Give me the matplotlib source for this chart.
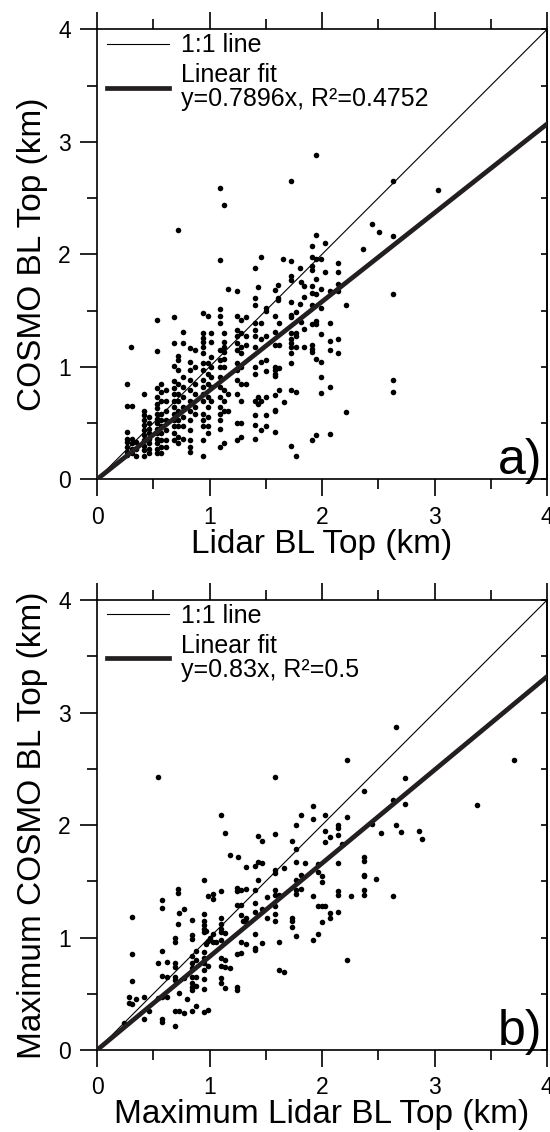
import numpy as np
import matplotlib
matplotlib.use('Agg')
import matplotlib.pyplot as plt

plt.rcParams['font.family'] = ['Liberation Sans', 'DejaVu Sans']

# ---- panel a: lidar BL top (x columns) vs COSMO BL top ----
a_lidar = [0.27, 0.30, 0.31, 0.35, 0.42, 0.46, 0.53, 0.57, 0.61, 0.68, 0.72, 0.76,
           0.83, 0.875, 0.94, 0.99, 1.01, 1.09, 1.13, 1.16, 1.24, 1.28, 1.32, 1.40,
           1.43, 1.46, 1.50, 1.58, 1.61, 1.62, 1.65, 1.66, 1.72, 1.77, 1.80, 1.81,
           1.84, 1.91, 1.95, 1.99, 2.03, 2.07, 2.14, 2.21, 2.36, 2.44, 2.51, 2.63, 3.03]
a_cosmo = [
    [0.85, 0.65, 0.42, 0.36, 0.33, 0.29, 0.24, 0.22],
    [1.18],
    [0.65, 0.36, 0.32, 0.27, 0.23],
    [0.33, 0.27, 0.21],
    [0.76, 0.61, 0.57, 0.53, 0.48, 0.44, 0.39, 0.35, 0.30, 0.26, 0.21],
    [0.55, 0.50, 0.45, 0.41, 0.36, 0.32, 0.27, 0.23],
    [1.42, 1.14, 0.81, 0.73, 0.67, 0.63, 0.58, 0.54, 0.50, 0.45, 0.41, 0.36, 0.32, 0.27, 0.23],
    [0.85, 0.78, 0.70, 0.58, 0.53, 0.47, 0.41, 0.35, 0.29, 0.23],
    [0.79, 0.70, 0.61, 0.53, 0.44, 0.35, 0.29],
    [1.44, 1.21, 1.01, 0.87, 0.81, 0.76, 0.70, 0.64, 0.58, 0.53, 0.47, 0.41, 0.35],
    [2.22, 1.10, 1.06, 0.97, 0.85, 0.76, 0.70, 0.61, 0.53, 0.47, 0.38, 0.32],
    [1.31, 1.21, 0.91, 0.82, 0.73, 0.64, 0.55, 0.47, 0.36],
    [1.17, 1.04, 0.97, 0.88, 0.79, 0.70, 0.61, 0.53, 0.44, 0.35, 0.29, 0.24],
    [1.15, 1.00, 0.85, 0.76, 0.64, 0.58],
    [1.48, 1.30, 1.26, 1.22, 1.18, 1.12, 1.03, 0.97, 0.88, 0.82, 0.76, 0.70, 0.58, 0.53, 0.47, 0.35, 0.21],
    [1.45, 1.03, 0.94, 0.85, 0.73, 0.64, 0.55, 0.47, 0.41],
    [1.30, 1.22, 1.09, 1.00, 0.91, 0.82, 0.70],
    [2.59, 1.95, 1.51, 1.45, 1.39, 1.15, 1.06, 1.00, 0.91, 0.82, 0.73, 0.64, 0.58, 0.53, 0.45, 0.29],
    [2.44, 1.30, 1.22, 1.18, 1.13, 1.07, 1.00, 0.79, 0.70, 0.61, 0.32],
    [1.69, 0.76, 0.61],
    [1.67, 1.45, 1.33, 1.27, 1.21, 1.15, 1.03, 0.97, 0.88, 0.76, 0.50, 0.35],
    [1.42, 1.30, 1.18, 1.12, 1.00, 0.85, 0.70, 0.50, 0.38],
    [1.44, 1.27, 1.19, 0.85],
    [1.88, 1.61, 1.55, 1.39, 1.33, 1.27, 1.18, 1.00, 0.94, 0.70, 0.57, 0.48, 0.36],
    [1.71, 0.73, 0.67],
    [1.98, 1.39, 1.25, 1.04, 0.70, 0.44],
    [1.52, 1.50, 1.27, 1.06, 0.96, 0.73, 0.57, 0.47],
    [1.68, 1.45, 1.31, 1.19, 1.00, 0.97, 0.94, 0.92, 0.75, 0.62, 0.61, 0.42],
    [1.73, 1.61, 1.59],
    [1.39, 1.19, 0.99, 0.79],
    [1.96],
    [0.69],
    [2.65, 1.94, 1.81, 1.77, 1.58, 1.46, 1.44, 1.30, 1.25, 1.21, 1.18, 1.12, 1.03, 0.79, 0.30],
    [1.49, 1.30, 1.27, 1.18, 0.78, 0.21],
    [1.88, 1.56],
    [1.75, 1.40],
    [1.72, 1.62, 1.34, 1.18],
    [2.07, 1.98, 1.90, 1.86, 1.72, 1.66, 1.55, 1.38, 1.19, 1.16, 1.13, 0.35],
    [2.88, 2.17, 1.96, 1.78, 1.65, 1.41, 1.38, 1.07, 0.39],
    [1.96, 1.69, 1.52, 1.29, 1.04, 0.91, 0.77],
    [2.10, 1.84],
    [1.67, 1.39, 1.23, 1.15, 0.82, 0.40],
    [1.92, 1.84, 1.74, 1.67, 1.25, 1.12],
    [1.55, 0.60],
    [2.05],
    [2.27],
    [2.20],
    [2.65, 2.16, 1.65, 0.88, 0.78],
    [2.57],
]
a_slope = 0.7896
a_label = 'Linear fit\ny=0.7896x, R\u00b2=0.4752'

# ---- panel b: daily maximum values ----
b_lidar = [0.24, 0.28, 0.31, 0.35, 0.42, 0.46, 0.54, 0.58, 0.62, 0.69, 0.72, 0.73,
           0.77, 0.80, 0.84, 0.88, 0.95, 0.97, 0.99, 1.00, 1.03, 1.06, 1.10, 1.14,
           1.18, 1.24, 1.25, 1.28, 1.30, 1.32, 1.40, 1.43, 1.47, 1.51, 1.58, 1.62,
           1.66, 1.73, 1.77, 1.81, 1.85, 1.92, 1.96, 2.00, 2.03, 2.07, 2.14, 2.18,
           2.22, 2.26, 2.37, 2.44, 2.48, 2.52, 2.63, 2.66, 2.70, 2.74, 2.86, 2.89,
           3.38, 3.71]
b_cosmo = [
    [0.24],
    [0.47, 0.42],
    [1.18, 0.85, 0.61, 0.41],
    [0.45],
    [0.47, 0.28],
    [0.35],
    [2.43, 0.77, 0.46],
    [1.33, 1.26, 0.88, 0.66, 0.47, 0.28, 0.25],
    [0.78, 0.65, 0.47],
    [1.00, 0.96, 0.77, 0.74, 0.65, 0.62, 0.35, 0.21],
    [1.43, 1.40, 1.12],
    [1.22, 0.51, 0.35],
    [1.25, 0.64, 0.33],
    [0.45],
    [1.16, 1.02, 0.99, 0.84, 0.77, 0.73, 0.65, 0.60, 0.56, 0.53, 0.35],
    [0.88, 0.80, 0.65, 0.57, 0.39],
    [1.51, 1.21, 1.15, 1.11, 1.08, 1.05, 0.87, 0.82, 0.77, 0.71, 0.63, 0.54, 0.34],
    [1.06, 0.94],
    [1.37, 0.97, 0.75, 0.36],
    [1.00],
    [1.39, 1.34, 1.03, 0.96],
    [0.96],
    [2.09, 1.41, 1.17, 1.12, 1.08, 1.05, 0.98, 0.82, 0.75, 0.64, 0.60],
    [1.93, 1.04, 0.80, 0.74, 0.55],
    [1.73, 0.73],
    [1.44, 1.41, 1.29, 0.85, 0.56, 0.53],
    [1.72],
    [1.42, 1.29, 1.20, 0.96, 0.86],
    [1.15],
    [1.63, 1.43, 1.17, 1.14, 0.94],
    [1.64, 1.42, 1.31, 1.23, 1.03, 0.91, 0.89],
    [1.90, 1.67, 1.51],
    [1.86, 1.66, 1.25, 0.95],
    [1.36, 1.17],
    [2.43, 1.92, 1.60, 1.57, 1.42, 1.38, 1.28, 1.21, 1.15],
    [1.38, 0.96, 0.71],
    [1.62, 0.69],
    [1.86, 1.17, 1.15, 1.09],
    [2.00, 1.79, 1.67, 1.51, 1.42, 1.39, 1.01],
    [2.09, 1.56, 1.43],
    [1.66],
    [2.17, 2.05, 1.37, 0.98],
    [1.65, 1.58, 1.28, 1.03],
    [1.55, 1.49, 1.28, 1.14],
    [2.09, 1.95, 1.85, 1.28],
    [1.89, 1.22, 1.17],
    [2.00, 1.97, 1.91, 1.66, 1.41, 1.38, 1.23],
    [1.83],
    [2.58, 2.07, 0.80],
    [1.37],
    [2.30, 1.72, 1.68, 1.56, 1.55, 1.42, 1.38],
    [2.01],
    [1.52],
    [1.93],
    [2.22, 1.37],
    [2.87, 2.00],
    [1.94],
    [2.42, 2.19],
    [1.95],
    [1.88],
    [2.18],
    [2.58],
]
b_slope = 0.83
b_label = 'Linear fit\ny=0.83x, R\u00b2=0.5'

fit_color = '#231f20'


def flatten(cols_x, cols_y):
    xs = np.concatenate([[x] * len(ys) for x, ys in zip(cols_x, cols_y)])
    ys = np.concatenate([ys for ys in cols_y])
    return xs, ys


def draw_panel(ax, cols_x, cols_y, slope, fit_label, xlabel, ylabel, tag):
    x, y = flatten(cols_x, cols_y)
    ax.scatter(x, y, s=16, color='black', linewidths=0, zorder=3)
    line = np.array([0, 4])
    ax.plot(line, line, color='black', lw=0.8, label='1:1 line', zorder=2)
    ax.plot(line, slope * line, color=fit_color, lw=3.4, label=fit_label, zorder=4)

    ax.set_xlim(0, 4)
    ax.set_ylim(0, 4)
    ticks = [0, 1, 2, 3, 4]
    minor = [0.5, 1.5, 2.5, 3.5]
    ax.set_xticks(ticks)
    ax.set_xticks(minor, minor=True)
    ax.set_yticks(ticks)
    ax.set_yticks(minor, minor=True)
    ax.tick_params(axis='x', which='both', top=True, direction='out')
    ax.tick_params(axis='both', which='major', length=12, width=1.2, labelsize=16.5, pad=7)
    ax.tick_params(axis='both', which='minor', length=7, width=1.2)
    ax.tick_params(axis='y', which='both', direction='out', right=False)

    # right side ticks point inward only
    sec = ax.secondary_yaxis('right')
    sec.set_yticks(ticks + minor)
    sec.tick_params(direction='in', length=4.5, width=1.2, labelright=False)
    sec.spines['right'].set_linewidth(1.2)

    for s in ax.spines.values():
        s.set_linewidth(1.2)

    ax.set_xlabel(xlabel, fontsize=24, labelpad=0)
    ax.set_ylabel(ylabel, fontsize=24, labelpad=7)
    leg = ax.legend(loc='upper left', bbox_to_anchor=(0.022, 0.991), frameon=False,
                    fontsize=18, handlelength=2.5, handletextpad=0.48,
                    borderaxespad=0, borderpad=0, labelspacing=0.22)
    leg.get_texts()[1].set_linespacing(1.0)
    ax.text(0.99, 0.012, tag, transform=ax.transAxes, ha='right', va='baseline', fontsize=36)


fig = plt.figure(figsize=(5.5, 11.32), dpi=100)
ax1 = fig.add_axes([0.1764, 0.5766, 0.8182, 0.3975])
ax2 = fig.add_axes([0.1764, 0.0724, 0.8182, 0.3975])

draw_panel(ax1, a_lidar, a_cosmo, a_slope, a_label,
           'Lidar BL Top (km)', 'COSMO BL Top (km)', 'a)')
draw_panel(ax2, b_lidar, b_cosmo, b_slope, b_label,
           'Maximum Lidar BL Top (km)', 'Maximum COSMO BL Top (km)', 'b)')

fig.savefig('out.png', dpi=100)
